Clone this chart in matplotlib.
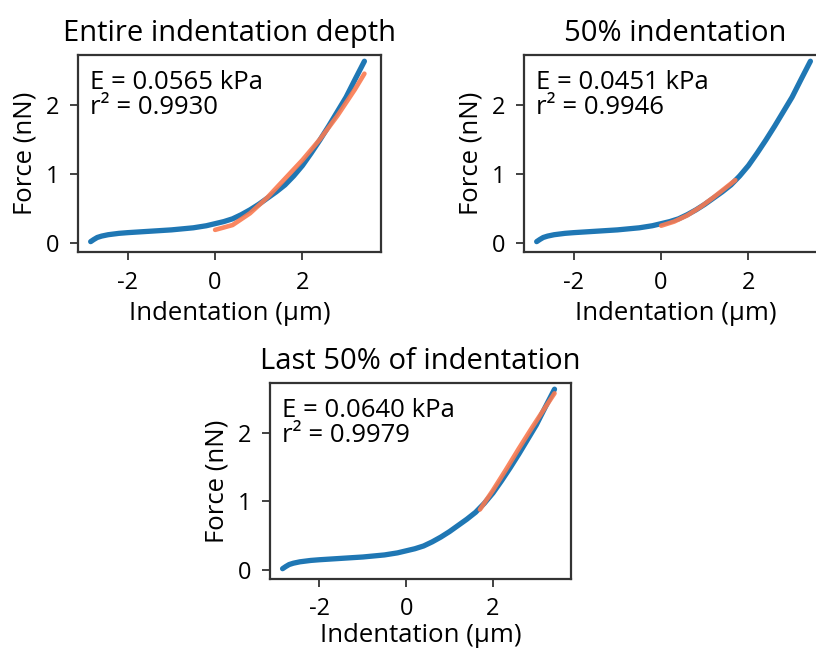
import matplotlib
matplotlib.use("Agg")
import matplotlib.pyplot as plt

plt.rcParams['font.family'] = ['Open Sans', 'DejaVu Sans']

# Measured force curve (blue)
curve_x = [-2.85, -2.78, -2.7, -2.6, -2.45, -2.2, -2.0, -1.5, -1.0, -0.5, -0.2, 0.0,
           0.2, 0.4, 0.6, 0.8, 1.0, 1.2, 1.4, 1.6, 1.8, 2.0, 2.2, 2.4, 2.6, 2.8,
           3.0, 3.2, 3.42]
curve_y = [0.02, 0.05, 0.08, 0.10, 0.12, 0.14, 0.15, 0.17, 0.19, 0.22, 0.25, 0.28,
           0.31, 0.35, 0.41, 0.48, 0.56, 0.65, 0.74, 0.84, 0.97, 1.12, 1.30, 1.49,
           1.69, 1.90, 2.11, 2.36, 2.63]

# Fits (orange)
fit_entire_x = [0.0, 0.4, 0.8, 1.2, 1.6, 2.0, 2.4, 2.8, 3.2, 3.42]
fit_entire_y = [0.19, 0.26, 0.43, 0.66, 0.93, 1.20, 1.50, 1.84, 2.22, 2.45]
fit_half_x = [0.0, 0.3, 0.6, 0.9, 1.2, 1.5, 1.7]
fit_half_y = [0.25, 0.31, 0.40, 0.52, 0.66, 0.81, 0.91]
fit_last_x = [1.7, 2.0, 2.3, 2.6, 2.9, 3.2, 3.42]
fit_last_y = [0.88, 1.16, 1.46, 1.77, 2.07, 2.36, 2.57]

titles = ["Entire indentation depth", "50% indentation", "Last 50% of indentation"]
moduli = ["0.0565", "0.0451", "0.0640"]
r2 = ["0.9930", "0.9946", "0.9979"]
fits = [(fit_entire_x, fit_entire_y), (fit_half_x, fit_half_y), (fit_last_x, fit_last_y)]

xticks = [-2, 0, 2]
yticks = [0, 1, 2]

W, H = 816, 651
fig = plt.figure(figsize=(W / 100, H / 100), dpi=100)

boxes = [(78, 55, 303, 197), (524, 55, 303, 197), (270, 383, 301, 196)]
xlabelpads = [4, 4, 1.5]
blue = '#1f77b4'
orange = '#fa7a50'

for i, (l, t, w, h) in enumerate(boxes):
    ax = fig.add_axes([l / W, 1 - (t + h) / H, w / W, h / H])
    ax.plot(curve_x, curve_y, color=blue, lw=3.8, solid_capstyle='round',
            solid_joinstyle='round', zorder=2)
    fx, fy = fits[i]
    ax.plot(fx, fy, color=orange, lw=3.3, alpha=0.9, solid_capstyle='round', zorder=3)
    ax.set_xlim(-3.14, 3.8)
    ax.set_ylim(-0.13, 2.72)
    ax.set_xticks(xticks)
    ax.set_yticks(yticks)
    ax.set_xticklabels([str(v) for v in xticks])
    ax.set_yticklabels([str(v) for v in yticks])
    ax.tick_params(labelsize=17, length=5.5, width=1.3, color='#333333')
    ax.tick_params(axis='x', pad=8.5 if i < 2 else 7.5)
    ax.tick_params(axis='y', pad=8)
    for s in ax.spines.values():
        s.set_color('#333333')
        s.set_linewidth(1.6)
    ax.set_title(titles[i], fontsize=21, pad=10)
    ax.set_xlabel("Indentation (µm)", fontsize=18.5, labelpad=xlabelpads[i])
    ax.set_ylabel("Force (nN)", fontsize=18.5, labelpad=6)
    ax.text(0.04, 0.925, f"E = {moduli[i]} kPa\nr² = {r2[i]}", transform=ax.transAxes,
            fontsize=18.5, va='top', ha='left', linespacing=1.0)

fig.savefig("out.png", dpi=100)
